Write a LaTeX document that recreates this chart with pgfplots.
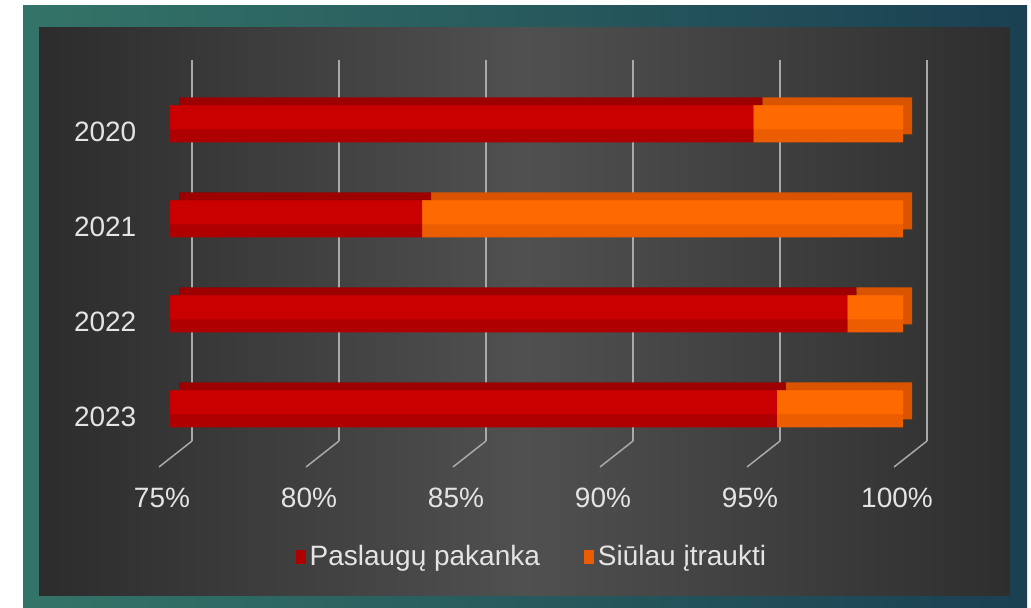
\documentclass[border=0pt]{standalone}
\usepackage{pgfplots}
\pgfplotsset{compat=1.18}
\usepackage{pgfplotstable}
\usepackage{fontspec}
\setmainfont{Liberation Sans}
\definecolor{frameL}{HTML}{347468}
\definecolor{frameR}{HTML}{1A4052}
\definecolor{panelL}{HTML}{2C2C2C}
\definecolor{panelM}{HTML}{505050}
\definecolor{panelR}{HTML}{2E2E2E}
\definecolor{gridc}{HTML}{A9A9A9}
\definecolor{txt}{HTML}{E4E4E4}
\definecolor{redF}{HTML}{CA0000}
\definecolor{redB}{HTML}{AE0000}
\definecolor{redD}{HTML}{9C0000}
\definecolor{orF}{HTML}{FF6A00}
\definecolor{orB}{HTML}{EC5C00}
\definecolor{orD}{HTML}{DA5400}
\pgfplotstableread{
y p s
0 94.9 5.1
1 83.6 16.4
2 98.1 1.9
3 95.7 4.3
}\data
\begin{document}
\begin{tikzpicture}
\fill[white] (0pt,0pt) rectangle (515.5pt,304pt);
\shade[left color=frameL, right color=frameR] (11.5pt,0pt) rectangle (513.5pt,301pt);
\shade[left color=panelL, right color=panelR, middle color=panelM] (19.5pt,6pt) rectangle (505pt,290pt);
% grid (back plane)
\begin{axis}[at={(96pt,83.5pt)}, anchor=south west, scale only axis,
  width=367.5pt, height=190.5pt, xmin=75, xmax=100, ymin=0, ymax=381,
  axis line style={draw=none}, major tick length=0pt, ytick=\empty,
  xtick={75,80,85,90,95,100},
  xticklabels={75\%,80\%,85\%,90\%,95\%,100\%},
  xmajorgrids, grid style={gridc, line width=0.75pt},
  xticklabel style={text=txt, font=\fontsize{14}{16}\selectfont, anchor=center, xshift=-15pt, yshift=-28.5pt},
  clip=false]
\addplot[gridc, line width=0.75pt] coordinates {(75,0) (73.878,-26)};
\addplot[gridc, line width=0.75pt] coordinates {(80,0) (78.878,-26)};
\addplot[gridc, line width=0.75pt] coordinates {(85,0) (83.878,-26)};
\addplot[gridc, line width=0.75pt] coordinates {(90,0) (88.878,-26)};
\addplot[gridc, line width=0.75pt] coordinates {(95,0) (93.878,-26)};
\addplot[gridc, line width=0.75pt] coordinates {(100,0) (98.878,-26)};
\end{axis}
% back faces (3D depth)
\begin{axis}[at={(89.5pt,79.75pt)}, anchor=south west, scale only axis,
  width=366.5pt, height=190pt, xmin=75, xmax=100, ymin=-0.5, ymax=3.5,
  y dir=reverse, xbar stacked, bar width=18.5pt, hide axis]
\addplot[fill=redD, draw=none] table[x=p,y=y]{\data};
\addplot[fill=orD, draw=none] table[x=s,y=y]{\data};
\end{axis}
% front faces
\begin{axis}[at={(85pt,75.75pt)}, anchor=south west, scale only axis,
  width=366.5pt, height=190pt, xmin=75, xmax=100, ymin=-0.5, ymax=3.5,
  y dir=reverse, xbar stacked, bar width=18.5pt,
  axis line style={draw=none}, major tick length=0pt, xtick=\empty,
  ytick={0,1,2,3}, yticklabels={2020,2021,2022,2023},
  yticklabel style={text=txt, font=\fontsize{14}{16}\selectfont, xshift=-13.3pt, yshift=-4pt},
  legend style={at={(0.495,-0.264)}, anchor=center, draw=none, fill=none,
    legend columns=2, font=\fontsize{14}{16}\selectfont, text=txt,
    /tikz/every even column/.append style={column sep=20pt}},
  legend image code/.code={\fill[#1] (0pt,-3.5pt) rectangle (5pt,3.5pt);}]
\addplot[fill=redB, draw=none] table[x=p,y=y]{\data};
\addlegendentry{Paslaugų pakanka}
\addplot[fill=orB, draw=none] table[x=s,y=y]{\data};
\addlegendentry{Siūlau įtraukti}
\end{axis}
% front face highlight (upper part of front faces)
\begin{axis}[at={(85pt,79pt)}, anchor=south west, scale only axis,
  width=366.5pt, height=190pt, xmin=75, xmax=100, ymin=-0.5, ymax=3.5,
  y dir=reverse, xbar stacked, bar width=12pt, hide axis]
\addplot[fill=redF, draw=none] table[x=p,y=y]{\data};
\addplot[fill=orF, draw=none] table[x=s,y=y]{\data};
\end{axis}
\end{tikzpicture}
\end{document}
